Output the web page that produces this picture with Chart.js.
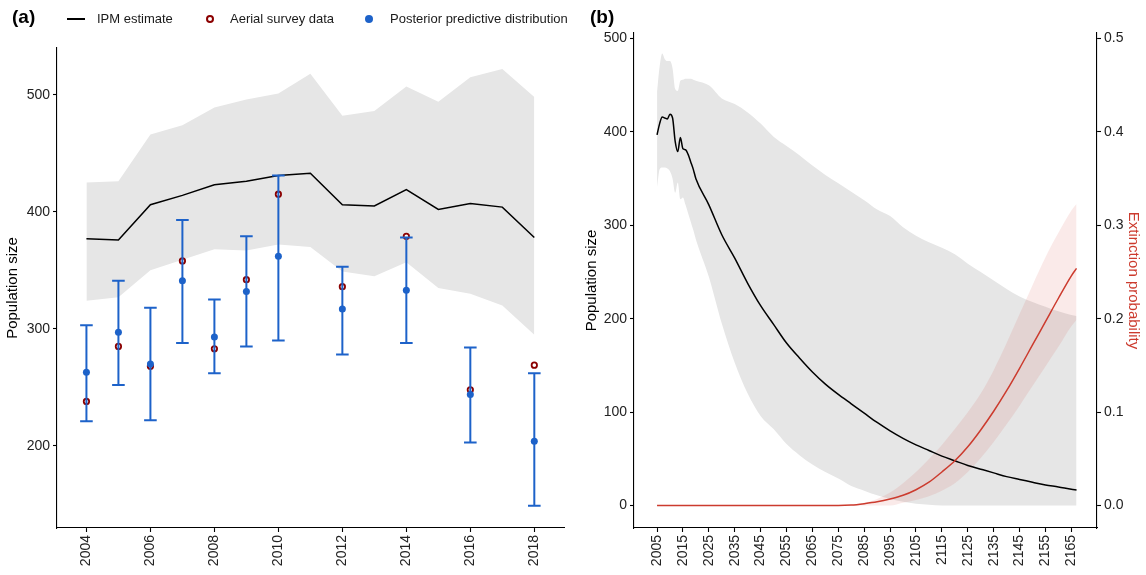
<!DOCTYPE html>
<html>
<head>
<meta charset="utf-8">
<script src="https://cdn.jsdelivr.net/npm/chart.js@4.4.1/dist/chart.umd.min.js"></script>
<style>
body{margin:0;background:#fff;width:1146px;height:575px;overflow:hidden;position:relative;font-family:'Liberation Sans',Arial,sans-serif}
canvas{position:absolute;top:0}
#chartA{left:0}
#chartB{left:573px}
.tag{position:absolute;top:6px;font-weight:bold;font-size:19px;line-height:22px;color:#000}
.lg{position:absolute;top:11px;font-size:13px;line-height:16px;color:#1a1a1a;white-space:nowrap}
.mk{position:absolute;box-sizing:border-box}
</style>
</head>
<body>
<canvas id="chartA" width="573" height="575"></canvas>
<canvas id="chartB" width="573" height="575"></canvas>

<div class="tag" style="left:12px">(a)</div>
<div class="tag" style="left:590px">(b)</div>

<div class="mk" style="left:67px;top:18px;width:18px;height:2px;background:#000"></div>
<div class="lg" style="left:97px">IPM estimate</div>
<div class="mk" style="left:206px;top:15px;width:8px;height:8px;border:2px solid #8b0000;border-radius:50%;background:#fff"></div>
<div class="lg" style="left:230px">Aerial survey data</div>
<div class="mk" style="left:365px;top:15px;width:8px;height:8px;border-radius:50%;background:#1d62c9"></div>
<div class="lg" style="left:390px">Posterior predictive distribution</div>

<script>
// (a) fitted population 2004-2018
const yearsA = [2004,2005,2006,2007,2008,2009,2010,2011,2012,2013,2014,2015,2016,2017,2018]
const ipmEstimate = [377,376,406,414,423,426,431,433,406,405,419,402,407,404,378]
const ipmLower = [324,327,350,359,368,367,372,370,349,345,357,335,330,320,295]
const ipmUpper = [425,426,466,474,489,496,501,518,482,486,507,494,515,522,498]

// survey counts and posterior predictive summaries
const surveyYears = [2004,2005,2006,2007,2008,2009,2010,2012,2014,2016,2018]
const surveyCounts = [238,285,268,358,283,342,415,336,379,248,269]
const ppMedian = [263,297,270,341,293,332,362,317,333,244,204]
const ppLow = [221,252,222,288,262,285,290,278,288,203,149]
const ppHigh = [303,341,318,393,325,379,431,353,378,284,262]

const ticksYearA = [2004,2006,2008,2010,2012,2014,2016,2018]
const ticksPopA = [200,300,400,500]

// (b) projection
const yearsB = [2005,2006,2007,2008,2009,2010,2011,2012,2013,2014,2015,2016,2017,2018,2019,2020,
  2025,2030,2035,2040,2045,2050,2055,2060,2065,2070,2075,2080,2085,2090,2095,2100,
  2105,2110,2115,2120,2125,2130,2135,2140,2145,2150,2155,2160,2165,2167]
const popMean = [397,409,416,415,414,419,415,390,379,394,382,381,376,368,360,350,
  322,290,265,238,214,194,174,158,143,130,119,109,99,89,80,72,
  65,59,53,48,43,39,35,31,28,25,22,20,17.5,16.8]
const popLow = [341,360,362,362,361,358,350,335,346,328,330,322,313,304,295,285,
  245,195,153,120,96,82,66,54,44,36,29,21,16,11,7,4,
  2,1,0,0,0,0,0,0,0,0,0,0,0,0]
const popHigh = [443,470,484,478,476,476,468,446,444,455,456,457,457,457,456,455,
  450,436,430,421,409,395,385,375,364,354,345,336,327,317,310,298,
  289,282,276,269,259,250,241,232,224,218,213,208,204,203]
const extProb = [0,0,0,0,0,0,0,0,0,0,0,0,0,0,0,0,
  0,0,0,0,0,0,0,0,0,0,0,0.0005,0.002,0.004,0.007,0.011,
  0.017,0.025,0.036,0.048,0.063,0.081,0.101,0.123,0.147,0.172,0.197,0.222,0.246,0.254]
const extLow = [0,0,0,0,0,0,0,0,0,0,0,0,0,0,0,0,
  0,0,0,0,0,0,0,0,0,0,0,0,0,0,0,0.003,
  0.006,0.01,0.016,0.024,0.036,0.051,0.068,0.087,0.107,0.128,0.149,0.17,0.192,0.199]
const extHigh = [0,0,0,0,0,0,0,0,0,0,0,0,0,0,0,0,
  0,0,0,0,0,0,0,0,0,0,0,0.001,0.003,0.007,0.014,0.024,
  0.036,0.05,0.065,0.082,0.1,0.12,0.145,0.174,0.205,0.236,0.266,0.292,0.316,0.323]

const ticksYearB = [2005,2015,2025,2035,2045,2055,2065,2075,2085,2095,2105,2115,2125,2135,2145,2155,2165]
const ticksPopB = [0,100,200,300,400,500]
const ticksProb = [0,0.1,0.2,0.3,0.4,0.5]

Chart.defaults.font.family = "'Liberation Sans', Arial, sans-serif"

const blue = '#1d62c9', darkRed = '#8b0000', grey = '#e6e6e6', red = '#cc3b2e'
const pts = (xs, ys) => xs.map((x, i) => ({x, y: ys[i]}))
const fixTicks = vals => s => { s.ticks = vals.map(v => ({value: v})) }

function axis(o) {
  return Object.assign({
    type: 'linear',
    border: {display: true, color: '#000', width: 1.1},
    grid: {drawOnChartArea: false, drawTicks: true, tickLength: 4, tickWidth: 1.1, tickColor: '#000'}
  }, o)
}
const tickFont = {color: '#222', font: {size: 14}, padding: 3}
const xTicks = Object.assign({minRotation: 90, maxRotation: 90, autoSkip: false, callback: v => String(v)}, tickFont)

// vertical error bar segments, broken by nulls
const errSegs = []
surveyYears.forEach((yr, i) => errSegs.push({x: yr, y: ppLow[i]}, {x: yr, y: ppHigh[i]}, {x: yr, y: null}))

new Chart(document.getElementById('chartA'), {
  type: 'line',
  data: {datasets: [
    {data: pts(yearsA, ipmLower), borderColor: 'transparent', pointRadius: 0, fill: false, tension: 0, order: 10},
    {data: pts(yearsA, ipmUpper), borderColor: 'transparent', backgroundColor: grey, pointRadius: 0, fill: '-1', tension: 0, order: 9},
    {data: pts(yearsA, ipmEstimate), borderColor: '#000', borderWidth: 1.5, pointRadius: 0, fill: false, order: 8},
    {data: pts(surveyYears, surveyCounts), showLine: false, pointRadius: 2.7, pointBorderWidth: 1.8,
      pointBorderColor: darkRed, pointBackgroundColor: '#fff', order: 7},
    {data: errSegs, borderColor: blue, borderWidth: 2, pointRadius: 0, spanGaps: false, order: 6},
    {data: pts(surveyYears, ppLow), showLine: false, pointStyle: 'line', pointRadius: 6.3, pointBorderWidth: 2, pointBorderColor: blue, order: 5},
    {data: pts(surveyYears, ppHigh), showLine: false, pointStyle: 'line', pointRadius: 6.3, pointBorderWidth: 2, pointBorderColor: blue, order: 5},
    {data: pts(surveyYears, ppMedian), showLine: false, pointRadius: 3.5, pointBorderWidth: 0, pointBackgroundColor: blue, order: 4}
  ]},
  options: {
    responsive: false, animation: false, events: [],
    layout: {padding: {left: 0, right: 5, top: 48, bottom: 0}},
    plugins: {legend: {display: false}, tooltip: {enabled: false}},
    scales: {
      x: axis({min: 2003.08, max: 2018.95, afterBuildTicks: fixTicks(ticksYearA), ticks: xTicks,
        afterFit: s => { s.height = 47 }}),
      y: axis({min: 129.9, max: 539.9, afterBuildTicks: fixTicks(ticksPopA), ticks: tickFont,
        title: {display: true, text: 'Population size', color: '#000', font: {size: 15}},
        afterFit: s => { s.width = 57 }})
    }
  }
})

const smooth = {cubicInterpolationMode: 'monotone', pointRadius: 0}

new Chart(document.getElementById('chartB'), {
  type: 'line',
  data: {datasets: [
    Object.assign({data: pts(yearsB, popLow), borderColor: 'transparent', fill: false, yAxisID: 'y', order: 10}, smooth),
    Object.assign({data: pts(yearsB, popHigh), borderColor: 'transparent', backgroundColor: grey, fill: '-1', yAxisID: 'y', order: 9}, smooth),
    Object.assign({data: pts(yearsB, extLow), borderColor: 'transparent', fill: false, yAxisID: 'y2', order: 8}, smooth),
    Object.assign({data: pts(yearsB, extHigh), borderColor: 'transparent', backgroundColor: 'rgba(205,50,40,0.1)', fill: '-1', yAxisID: 'y2', order: 7}, smooth),
    Object.assign({data: pts(yearsB, popMean), borderColor: '#000', borderWidth: 1.5, fill: false, yAxisID: 'y', order: 6}, smooth),
    Object.assign({data: pts(yearsB, extProb), borderColor: red, borderWidth: 1.5, fill: false, yAxisID: 'y2', order: 5}, smooth)
  ]},
  options: {
    responsive: false, animation: false, events: [],
    layout: {padding: {left: 6, right: 0, top: 33, bottom: 0}},
    plugins: {legend: {display: false}, tooltip: {enabled: false}},
    scales: {
      x: axis({min: 1996.1, max: 2174.9, afterBuildTicks: fixTicks(ticksYearB), ticks: xTicks,
        afterFit: s => { s.height = 47 }}),
      y: axis({min: -24, max: 506, afterBuildTicks: fixTicks(ticksPopB), ticks: tickFont,
        title: {display: true, text: 'Population size', color: '#000', font: {size: 15}},
        afterFit: s => { s.width = 55 }}),
      y2: axis({position: 'right', min: -0.024, max: 0.506, afterBuildTicks: fixTicks(ticksProb),
        ticks: Object.assign({callback: v => v.toFixed(1)}, tickFont),
        title: {display: true, text: 'Extinction probability', color: red, font: {size: 15}},
        afterFit: s => { s.width = 49 }})
    }
  }
})
</script>
</body>
</html>
